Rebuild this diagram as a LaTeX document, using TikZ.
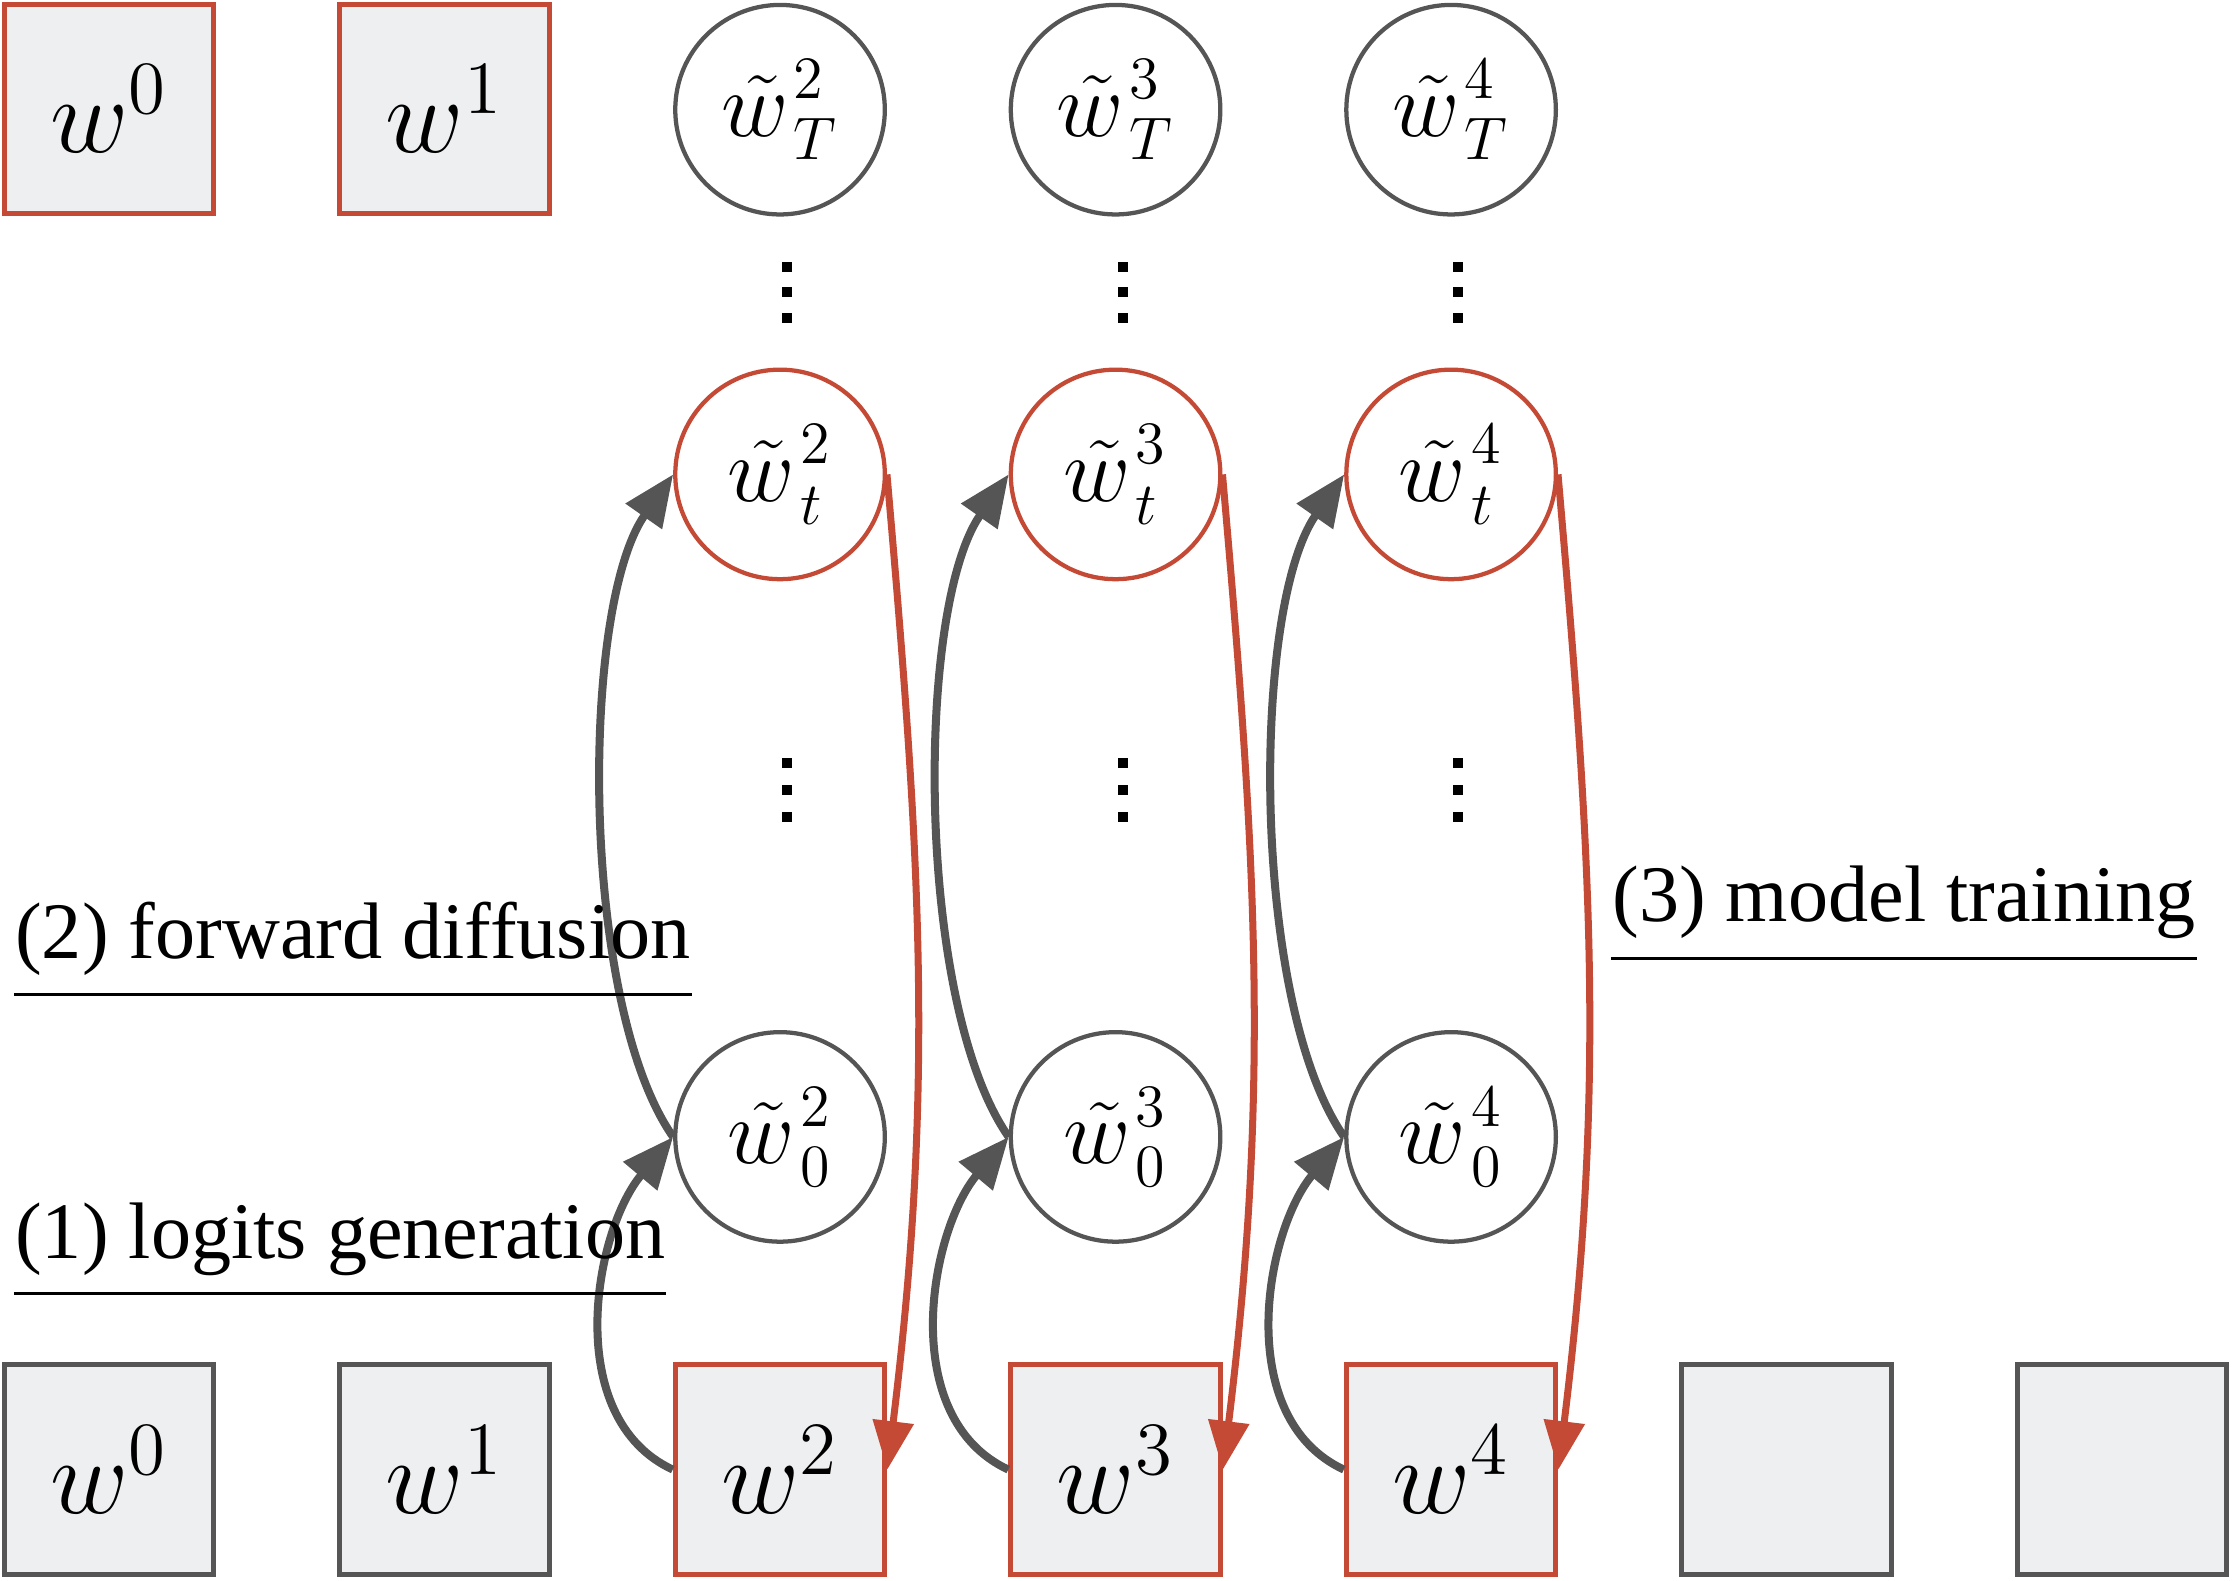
\RequirePackage{fix-cm}
\documentclass[tikz,border=0pt]{standalone}
\usepackage[no-math]{fontspec}
\setmainfont{Liberation Serif}
\usetikzlibrary{arrows.meta}
\DeclareMathSizes{21.5}{21.5}{15}{11}
\DeclareMathSizes{18.5}{18.5}{12}{9}
\definecolor{myred}{RGB}{196,74,54}
\definecolor{mygray}{RGB}{85,85,85}
\definecolor{myfill}{RGB}{238,239,240}
\begin{document}
\begin{tikzpicture}[x=0.01cm,y=0.01cm,
  wbox/.style={rectangle, minimum width=1.47cm, minimum height=1.47cm, fill=myfill, line width=1pt, inner sep=0pt, font=\fontsize{21.5}{26}\selectfont},
  graybox/.style={wbox, draw=mygray},
  redbox/.style={wbox, draw=myred},
  wcirc/.style={circle, minimum size=1.47cm, inner sep=0pt, line width=0.85pt, fill=white, font=\fontsize{18.5}{22}\selectfont},
  graycirc/.style={wcirc, draw=mygray},
  redcirc/.style={wcirc, draw=myred},
  grayarrow/.style={draw=mygray, line width=1.6pt, -{Triangle[length=3.6mm,width=3mm]}},
  redarrow/.style={draw=myred, line width=1.4pt, -{Triangle[length=3.4mm,width=2.8mm]}},
  lab/.style={anchor=base west, inner sep=0pt, font=\fontsize{16}{19}\selectfont},
  uline/.style={line width=0.55pt, black},
  dotsq/.style={fill=black}
]
\useasboundingbox (0,0) rectangle (1568,1109);
% top boxes
\node[redbox] (tb0) at (76.5,1032.5) {$w^0$};
\node[redbox] (tb1) at (312,1032.5) {$w^1$};
% bottom boxes
\node[graybox] (b0) at (76.5,77.5) {$w^0$};
\node[graybox] (b1) at (312,77.5) {$w^1$};
\node[redbox] (b2) at (547.5,77.5) {$w^2$};
\node[redbox] (b3) at (783,77.5) {$w^3$};
\node[redbox] (b4) at (1018.5,77.5) {$w^4$};
\node[graybox] (b5) at (1254,77.5) {};
\node[graybox] (b6) at (1489.5,77.5) {};
% circles
\foreach \i/\x in {2/547.5,3/783,4/1018.5}{
  \node[graycirc] (cT\i) at (\x,1032) {${\tilde{w}\mkern1mu}^{\i}_{T}$};
  \node[redcirc] (ct\i) at (\x,776) {${\tilde{w}\mkern1mu}^{\i}_{t}$};
  \node[graycirc] (cz\i) at (\x,311) {${\tilde{w}\mkern1mu}^{\i}_{0}$};
  \foreach \yy in {921.5,904,886,573.4,554.6,535.7}{
    \fill[dotsq] (\x+1.5,\yy-3.5) rectangle +(7,7);
  }
}
% arrows
\foreach \i in {2,3,4}{
  \draw[grayarrow] (b\i.west) to[out=155,in=230,looseness=0.95] (cz\i.west);
  \draw[grayarrow] (cz\i.west) to[out=125,in=235,looseness=0.63] (ct\i.west);
  \draw[redarrow] (ct\i.east) to[out=-85,in=83] (b\i.east);
}
% labels
\node[lab] (l2) at (10,436.5) {(2) forward diffusion};
\draw[uline] ([yshift=-0.257cm]l2.base west) -- ([yshift=-0.257cm]l2.base east);
\node[lab] (l1) at (10,226) {(1) logits generation};
\draw[uline] ([yshift=-0.247cm]l1.base west) -- ([yshift=-0.247cm]l1.base east);
\node[lab] (l3) at (1131,462.2) {(3) model training};
\draw[uline] ([yshift=-0.257cm]l3.base west) -- ([yshift=-0.257cm]l3.base east);
\end{tikzpicture}
\end{document}
